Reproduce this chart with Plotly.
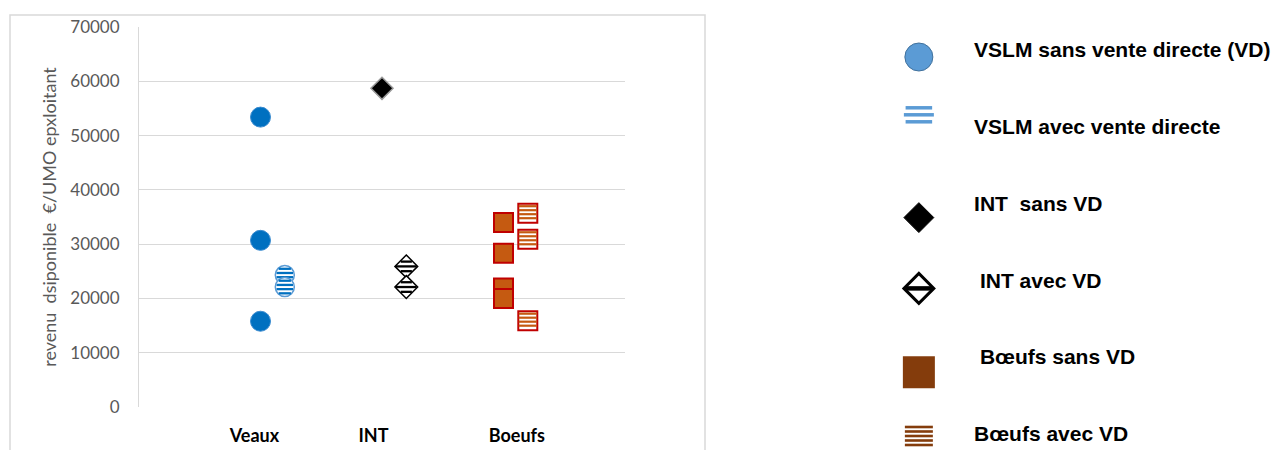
import math
import plotly.graph_objects as go

# ---------------- data ----------------
categories = ["Veaux", "INT", "Boeufs"]
category_ticks = [0.95, 1.93, 3.11]
group_x = [1.0, 2.0, 3.0]
avec_offset = 0.2

veaux_sans_vd = [53400, 30700, 15800]
veaux_avec_vd = [24300, 22100]
int_sans_vd = [58700]
int_avec_vd = [25900, 22100]
boeufs_sans_vd = [34000, 28300, 21900, 20000]
boeufs_avec_vd = [35700, 30900, 15900]

legend_labels = [
    "VSLM sans vente directe (VD)",
    "VSLM avec vente directe",
    "INT\u00a0 sans VD",
    "\u00a0INT avec VD",
    "\u00a0Bœufs sans VD",
    "Bœufs avec VD",
]

y_title = "revenu\u00a0\u00a0dsiponible\u00a0\u00a0€/UMO epxloitant"

# ---------------- geometry (page px, minus the 8px body margin) ----------------
OFF = 8
W, H = 1281 - OFF, 450 - OFF
pl, pr, pt, pb = 139 - OFF, 625 - OFF, 27 - OFF, 407 - OFF
Y_MAX = 70000
data_per_px = Y_MAX / (pb - pt)

LEG_TOP, LEG_STEP = 52 - OFF, 76.8          # legend rows, px
leg_range = [(H - LEG_TOP) / LEG_STEP, -LEG_TOP / LEG_STEP]
leg_per_px = 1 / LEG_STEP
leg_key_nudge_px = [5, -14, 12, 6, 13, 1]   # key swatch vertical nudges (style)

fig = go.Figure()


def half_width(shape, r, dy):
    if shape == "circle":
        return math.sqrt(max(r * r - dy * dy, 0))
    if shape == "diamond":
        return max(1.3 * r - abs(dy), 0)
    return r


def add_stripes(xs, ys, shape, size, offsets, thick, color, unit_per_px,
                xaxis="x", yaxis="y", inset=1.0, sign=-1):
    r = size / 2
    for dy in offsets:
        hw = half_width(shape, r, dy) - inset
        if hw <= 0:
            continue
        fig.add_trace(go.Scatter(
            x=xs, y=[v + sign * dy * unit_per_px for v in ys], mode="markers",
            marker=dict(symbol="line-ew", size=hw / 0.7,
                        line=dict(color=color, width=thick)),
            showlegend=False, hoverinfo="skip", xaxis=xaxis, yaxis=yaxis,
            cliponaxis=False,
        ))


def add_series(xc, values, symbol, size, fill, line_color, line_w,
               stripes=None):
    xs = [xc] * len(values)
    for i, v in enumerate(values):
        fig.add_trace(go.Scatter(
            x=[xs[i]], y=[v], mode="markers", showlegend=False, hoverinfo="y",
            marker=dict(symbol=symbol, size=size, color=fill,
                        line=dict(color=line_color, width=line_w)),
            cliponaxis=False,
        ))
        if stripes:
            add_stripes([xs[i]], [v], symbol, size, unit_per_px=data_per_px, **stripes)


add_series(group_x[0], veaux_sans_vd, "circle", 20, "#0070C0", "#3A8BD0", 1)
add_series(group_x[0] + avec_offset, veaux_avec_vd, "circle", 19, "white", "#5B9BD5", 1.5,
           stripes=dict(offsets=[-6.3, -2.1, 2.1, 6.3], thick=2.3, color="#0070C0"))
add_series(group_x[1], int_sans_vd, "diamond", 17, "black", "#9a9a9a", 1.5)
add_series(group_x[1] + avec_offset, int_avec_vd, "diamond", 17.5, "white", "black", 1.5,
           stripes=dict(offsets=[-4.8, 0, 4.8], thick=2.3, color="black"))
add_series(group_x[2], boeufs_sans_vd, "square", 19, "#C55A11", "#C00000", 2)
add_series(group_x[2] + avec_offset, boeufs_avec_vd, "square", 19, "white", "#C00000", 2,
           stripes=dict(offsets=[-7, -3, 1, 5], thick=2.2, color="#C55A11", inset=0.5))

# ---------------- legend panel (own axes) ----------------
leg_idx = list(range(len(legend_labels)))
leg_styles = [
    dict(symbol="circle", size=28, color="#5B9BD5", line=dict(color="#41719C", width=1)),
    None,
    dict(symbol="diamond", size=23, color="black", line=dict(color="black", width=1)),
    dict(symbol="diamond", size=23, color="white", line=dict(color="black", width=3)),
    dict(symbol="square", size=32, color="#843C0C", line=dict(color="#843C0C", width=0)),
    None,
]
leg_stripes = [
    None,
    dict(shape="circle", size=30, offsets=[-7, 0, 7], thick=3.5, color="#5B9BD5", inset=0),
    None,
    dict(shape="diamond", size=23, offsets=[0], thick=4.5, color="black", inset=1.5),
    None,
    dict(shape="square", size=28, offsets=[-10, -5.5, -1, 3.5, 8], thick=2.6,
         color="#843C0C", inset=0),
]

for i, st, sp, nud in zip(leg_idx, leg_styles, leg_stripes, leg_key_nudge_px):
    yk = i + nud * leg_per_px
    if st:
        fig.add_trace(go.Scatter(
            x=[0], y=[yk], mode="markers", marker=st, showlegend=False,
            hoverinfo="skip", xaxis="x2", yaxis="y2", cliponaxis=False,
        ))
    if sp:
        add_stripes([0], [yk], sp["shape"], sp["size"], sp["offsets"], sp["thick"],
                    sp["color"], leg_per_px, xaxis="x2", yaxis="y2", inset=sp["inset"],
                    sign=1)

fig.add_trace(go.Scatter(
    x=[1.35] * len(legend_labels), y=leg_idx, mode="text", text=legend_labels,
    textposition="middle right", showlegend=False, hoverinfo="skip",
    textfont=dict(family="Liberation Sans", size=21, color="black", weight="bold"),
    xaxis="x2", yaxis="y2", cliponaxis=False,
))

fig.update_layout(
    width=W, height=H,
    margin=dict(l=0, r=0, t=0, b=0),
    paper_bgcolor="white", plot_bgcolor="white",
    showlegend=False,
    xaxis=dict(
        domain=[pl / W, pr / W], range=[0, 4], showgrid=False, zeroline=False,
        showline=False, tickvals=category_ticks, ticktext=categories, ticks="",
        tickfont=dict(family="Lato", size=18, color="black", weight="bold"),
        ticklabelstandoff=16, fixedrange=True, automargin=False,
    ),
    yaxis=dict(
        domain=[1 - pb / H, 1 - pt / H], range=[0, Y_MAX], dtick=10000,
        showgrid=True, gridcolor="#d9d9d9", gridwidth=1, zeroline=False,
        showline=True, linecolor="#d9d9d9", linewidth=1, ticks="",
        tickformat="d", ticklabelstandoff=15,
        tickfont=dict(family="Lato", size=17, color="#595959"),
        title=dict(text=y_title, font=dict(family="Lato", size=18, color="#595959"),
                   standoff=8),
        fixedrange=True, automargin=False,
    ),
    xaxis2=dict(domain=[(880 - OFF) / W, 1], range=[-0.95, 9.05 - OFF / 40.1],
                visible=False, anchor="y2", fixedrange=True, automargin=False),
    yaxis2=dict(domain=[0, 1], range=leg_range, visible=False,
                anchor="x2", fixedrange=True, automargin=False),
    shapes=[dict(type="rect", xref="paper", yref="paper",
                 x0=(10 - OFF) / W, x1=(705 - OFF) / W, y0=-0.05, y1=1 - (15 - OFF) / H,
                 line=dict(color="#d9d9d9", width=1.5), layer="below")],
)

fig.write_html("out.html")
